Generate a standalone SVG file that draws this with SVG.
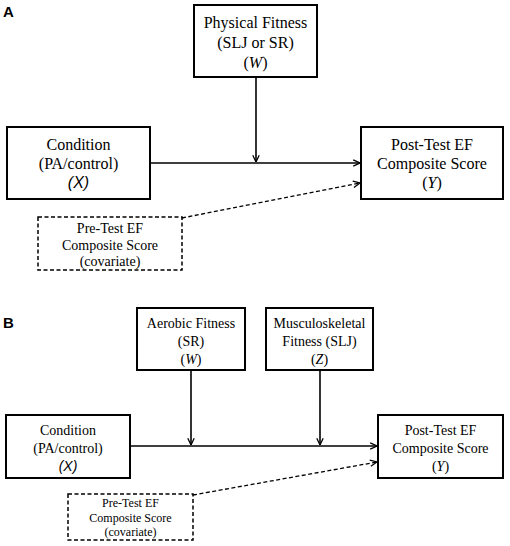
<svg xmlns="http://www.w3.org/2000/svg" width="510" height="546" viewBox="0 0 510 546">
<defs>
<marker id="arr" viewBox="0 0 10 10" refX="9.5" refY="5" markerWidth="8" markerHeight="8" markerUnits="userSpaceOnUse" orient="auto">
<path d="M1,1 L9.5,5 L1,9" fill="none" stroke="#000" stroke-width="1.6"/>
</marker>
</defs>
<style>
.box{fill:#fff;stroke:#000;stroke-width:2}
.dbox{fill:#fff;stroke:#000;stroke-width:1.5;stroke-dasharray:4 2.5}
.t{font-family:"Liberation Serif","Times New Roman",serif;text-anchor:middle;fill:#000}
.t16{font-size:16px}
.t14{font-size:14px}
.t12{font-size:12px}
.it{font-style:italic}
.sx{font-family:"Liberation Sans",Arial,sans-serif;font-style:italic}
.lbl{font-family:"Liberation Sans",Arial,sans-serif;font-weight:bold;font-size:15px}
.ln{stroke:#000;stroke-width:1.6;fill:none}
.dl{stroke:#000;stroke-width:1.3;fill:none;stroke-dasharray:4 2.5}
</style>
<text class="lbl" x="3" y="17">A</text>
<text class="lbl" x="3" y="328">B</text>
<g id="connectors">
<line class="ln" x1="150" y1="163" x2="360" y2="163" marker-end="url(#arr)"/>
<line class="ln" x1="256" y1="77" x2="256" y2="162" marker-end="url(#arr)"/>
<line class="dl" x1="182" y1="218" x2="360" y2="183" marker-end="url(#arr)"/>
<line class="ln" x1="130" y1="446" x2="377" y2="446" marker-end="url(#arr)"/>
<line class="ln" x1="191" y1="370" x2="191" y2="445" marker-end="url(#arr)"/>
<line class="ln" x1="320" y1="370" x2="320" y2="445" marker-end="url(#arr)"/>
<line class="dl" x1="193" y1="495" x2="377" y2="462" marker-end="url(#arr)"/>
</g>
<g id="a-fitness">
<rect class="box" x="194" y="5" width="123" height="72"/>
<text class="t t16" x="255.5" y="28">Physical Fitness</text>
<text class="t t16" x="255.5" y="48">(SLJ or SR)</text>
<text class="t t16" x="255.5" y="68">(<tspan class="it">W</tspan>)</text>
</g>
<g id="a-condition">
<rect class="box" x="7" y="127" width="143" height="72"/>
<text class="t t16" x="78.5" y="150">Condition</text>
<text class="t t16" x="78.5" y="169">(PA/control)</text>
<text class="t t16 sx" x="78.5" y="188" font-size="15">(X)</text>
</g>
<g id="a-post">
<rect class="box" x="361" y="127" width="142" height="72"/>
<text class="t t16" x="432" y="150">Post-Test EF</text>
<text class="t t16" x="432" y="169">Composite Score</text>
<text class="t t16" x="432" y="188">(<tspan class="it">Y</tspan>)</text>
</g>
<g id="a-pretest">
<rect class="dbox" x="38" y="217" width="144" height="53"/>
<text class="t t14" x="110" y="233">Pre-Test EF</text>
<text class="t t14" x="110" y="250">Composite Score</text>
<text class="t t14" x="110" y="266">(covariate)</text>
</g>
<g id="b-aerobic">
<rect class="box" x="137" y="308" width="108" height="62"/>
<text class="t t14" x="191" y="328">Aerobic Fitness</text>
<text class="t t14" x="191" y="346">(SR)</text>
<text class="t t14" x="191" y="364">(<tspan class="it">W</tspan>)</text>
</g>
<g id="b-musculo">
<rect class="box" x="266" y="308" width="107" height="62"/>
<text class="t t14" x="319.5" y="328">Musculoskeletal</text>
<text class="t t14" x="319.5" y="346">Fitness (SLJ)</text>
<text class="t t14" x="319.5" y="364">(<tspan class="it">Z</tspan>)</text>
</g>
<g id="b-condition">
<rect class="box" x="6" y="415" width="124" height="63"/>
<text class="t t14" x="68" y="435">Condition</text>
<text class="t t14" x="68" y="453">(PA/control)</text>
<text class="t t14 sx" x="68" y="471" font-size="13">(X)</text>
</g>
<g id="b-post">
<rect class="box" x="378" y="415" width="125" height="63"/>
<text class="t t14" x="440.5" y="435">Post-Test EF</text>
<text class="t t14" x="440.5" y="453">Composite Score</text>
<text class="t t14" x="440.5" y="471">(<tspan class="it">Y</tspan>)</text>
</g>
<g id="b-pretest">
<rect class="dbox" x="68" y="494" width="125" height="46"/>
<text class="t t12" x="130.5" y="507">Pre-Test EF</text>
<text class="t t12" x="130.5" y="522">Composite Score</text>
<text class="t t12" x="130.5" y="536">(covariate)</text>
</g>
</svg>
